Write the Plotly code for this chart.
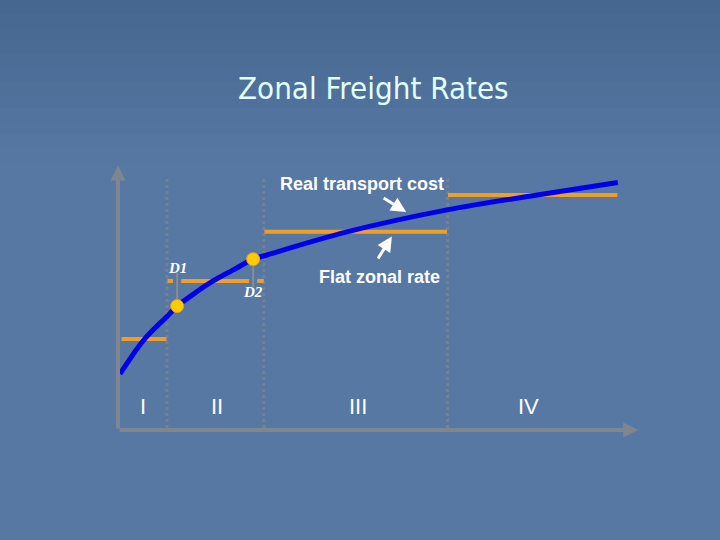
import plotly.graph_objects as go

# ---- data ----
curve_x = [0.4, 5.2, 9.9, 11.6, 14.1, 18.4, 22.6, 26.5, 29.2, 44.9, 64.5, 82.2, 98.0]
curve_y = [21.4, 34.7, 43.9, 47.3, 50.9, 56.6, 61.1, 65.2, 66.8, 75.6, 84.0, 89.7, 94.5]

zone_bounds = [0.6, 9.6, 28.6, 64.6, 98.0]
zone_rates = [34.7, 56.9, 75.7, 89.7]
zone_labels = ["I", "II", "III", "IV"]
zone_label_x = [4.9, 19.4, 47.1, 80.4]

points_name = ["D1", "D2"]
points_x = [11.6, 26.5]
points_y = [47.3, 65.2]
points_label_y = [62.0, 52.7]

title = "Zonal Freight Rates"

fig = go.Figure()

H = 540
t_margin, b_margin = 168, 110
plot_h = H - t_margin - b_margin
def py_to_paper(py):
    return (H - b_margin - py) / plot_h

# background gradient (style only)
top_c = (70, 103, 143)
bot_c = (86, 120, 163)
nb = 40
for i in range(nb):
    py0 = i * H / nb
    py1 = (i + 1) * H / nb
    f = min(1.0, (py0 + py1) / 2 / 160.0)
    c = tuple(int(top_c[k] + (bot_c[k] - top_c[k]) * f) for k in range(3))
    fig.add_shape(type="rect", xref="paper", yref="paper",
                  x0=-1, x1=2, y0=py_to_paper(py1 + 1), y1=py_to_paper(py0),
                  line_width=0, fillcolor="rgb(%d,%d,%d)" % c, layer="below")

# zone boundary dotted lines
for xb in zone_bounds[1:4]:
    fig.add_trace(go.Scatter(x=[xb, xb], y=[0.8, 97], mode="lines",
                             line=dict(color="rgb(122,128,136)", width=3, dash="dot"),
                             hoverinfo="skip", showlegend=False))

# flat zonal rates (orange)
gap = 0.8
for i, r in enumerate(zone_rates):
    x0, x1 = zone_bounds[i], zone_bounds[i + 1]
    if i == 1:
        xs = [x0 + 0.1, points_x[0] - gap, None, points_x[0] + gap, points_x[1] - gap, None,
              points_x[1] + gap, x1]
        ys = [r, r, None, r, r, None, r, r]
    else:
        xs = [x0 + 0.1, x1 - 0.1]
        ys = [r, r]
    fig.add_trace(go.Scatter(x=xs, y=ys, mode="lines",
                             line=dict(color="rgb(240,158,40)", width=4),
                             hoverinfo="skip", showlegend=False))

# connectors for D1 / D2
for px, py, ly in zip(points_x, points_y, points_label_y):
    fig.add_trace(go.Scatter(x=[px, px], y=[py, ly + (-2 if ly > py else 2)], mode="lines",
                             line=dict(color="rgb(140,140,140)", width=2),
                             hoverinfo="skip", showlegend=False))

# real transport cost curve
fig.add_trace(go.Scatter(x=curve_x, y=curve_y, mode="lines", cliponaxis=False,
                         line=dict(color="rgb(0,0,232)", width=5, shape="spline", smoothing=1.0),
                         hoverinfo="skip", showlegend=False))

# points
fig.add_trace(go.Scatter(x=points_x, y=points_y, mode="markers",
                         marker=dict(color="rgb(255,204,0)", size=13,
                                     line=dict(color="rgb(230,160,30)", width=1)),
                         hoverinfo="skip", showlegend=False))

ann = []
axis_col = "rgb(128,134,142)"
ann.append(dict(x=102, y=0, ax=0, ay=0, xref="x", yref="y", axref="x", ayref="y",
                text="", showarrow=True, arrowhead=2, arrowsize=0.75, arrowwidth=4, arrowcolor=axis_col))
ann.append(dict(x=0, y=101, ax=0, ay=0, xref="x", yref="y", axref="x", ayref="y",
                text="", showarrow=True, arrowhead=2, arrowsize=0.75, arrowwidth=4, arrowcolor=axis_col))

ann.append(dict(x=56.5, y=83.2, ax=51.8, ay=88.9, xref="x", yref="y", axref="x", ayref="y",
                text="", showarrow=True, arrowhead=2, arrowsize=1, arrowwidth=3, arrowcolor="white"))
ann.append(dict(x=53.7, y=73.9, ax=50.8, ay=64.9, xref="x", yref="y", axref="x", ayref="y",
                text="", showarrow=True, arrowhead=2, arrowsize=1, arrowwidth=3, arrowcolor="white"))

lbl_font = dict(family="Liberation Sans", size=18, color="white", weight="bold")
ann.append(dict(x=47.8, y=93.9, xref="x", yref="y", text="Real transport cost", showarrow=False, font=lbl_font))
ann.append(dict(x=51.2, y=58.4, xref="x", yref="y", text="Flat zonal rate", showarrow=False, font=lbl_font))
ann.append(dict(x=48.8, y=-5.2, xref="x", yref="y", text="Distance", showarrow=False, font=lbl_font))
ann.append(dict(x=-2.9, y=57.3, xref="x", yref="y", text="Costs", showarrow=False, textangle=-90, font=lbl_font))

for lx, lab in zip(zone_label_x, zone_labels):
    ann.append(dict(x=lx, y=8.8, xref="x", yref="y", text=lab, showarrow=False,
                    font=dict(family="Liberation Sans", size=22, color="white")))

for px, name, ly in zip(points_x, points_name, points_label_y):
    ann.append(dict(x=px, y=ly, xref="x", yref="y", text=name, showarrow=False,
                    font=dict(family="Liberation Serif", size=15, color="white",
                              style="italic", weight="bold")))

ann.append(dict(x=0.5, y=py_to_paper(88), xref="paper", yref="paper", text=title, showarrow=False,
                xanchor="center", yanchor="middle",
                font=dict(family="DejaVu Sans Condensed", size=31, color="rgb(225,255,255)")))

fig.update_layout(
    width=720, height=540,
    margin=dict(l=118, r=92, t=t_margin, b=b_margin),
    paper_bgcolor="rgb(84,118,160)",
    plot_bgcolor="rgba(0,0,0,0)",
    xaxis=dict(range=[0, 100], visible=False, fixedrange=True),
    yaxis=dict(range=[0, 100], visible=False, fixedrange=True),
    annotations=ann,
    showlegend=False,
)

fig.write_html("out.html", config={"displayModeBar": False},
               post_script="document.body.style.margin='0';document.body.style.padding='0';")
